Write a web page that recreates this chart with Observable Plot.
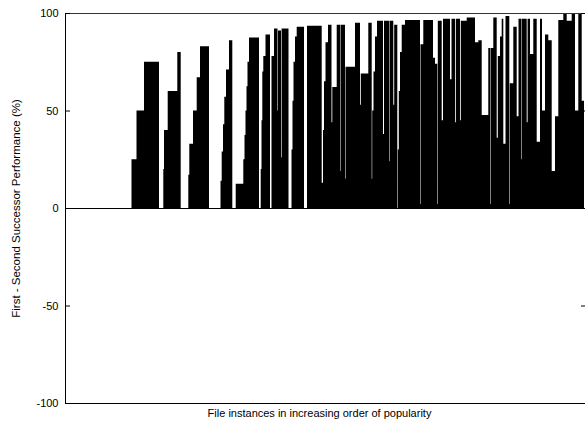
<!DOCTYPE html>
<html>
<head>
<meta charset="utf-8">
<script src="https://cdn.jsdelivr.net/npm/d3@7"></script>
<script src="https://cdn.jsdelivr.net/npm/@observablehq/plot@0.6"></script>
<style>
  html, body { margin: 0; padding: 0; background: white; overflow: hidden; }
  svg { display: block; }
</style>
</head>
<body>
<div id="chart"></div>
<script>
// File instance rank where each step starts, and the step's value (%)
const rank = [
  0, 66.5, 71.5, 79, 94, 98.3, 99, 102.7, 112.3, 115.7,
  123.3, 124.3, 128, 131.7, 135, 144,
  155.5, 156.7, 158, 159.3, 161, 164, 167.3,
  170.7, 178.3, 179.5, 180.5, 181.5, 182.5, 184, 194,
  195.7, 196.5, 197.3, 198.3, 200.5, 205,
  206.5, 209, 212.5, 213, 216, 216.6, 223.5,
  226.5, 227.5, 228.5, 230, 231.7, 239, 242,
  256.7, 258, 259, 260.5, 263, 266.5, 267.3, 271.7, 275, 275.5, 280, 280.5,
  290, 295, 295.8, 303.3, 306.7, 307.2, 308.5, 310, 312,
  318, 319, 324.3, 324.8, 328.3, 329.2, 332.3, 332.8, 333.8, 335, 336.7,
  340, 355, 355.5, 358.3, 368, 370, 372.3, 372.8, 376.7,
  378, 385, 386.5, 390, 390.8, 395, 395.8, 401.7,
  410, 413.3, 416.7, 423.3, 425.5, 426, 428.3, 431.7, 432.8, 435, 436.7, 438.3,
  440.5, 444.3, 444.8, 448.3, 451.7, 453.5, 456.5, 457, 461.7, 462.6, 465, 468.3,
  471.7, 475, 477, 480, 483.3, 486.7, 490, 493.3, 498.3, 501.7, 506.7,
  510, 513.3, 516.7, 519
];
const perf = [
  0, 25, 50, 75, 0, 20, 40, 60, 80, 0,
  17, 33, 50, 67, 83, 0,
  14, 29, 43, 57, 71, 86, 0,
  12.5, 25, 37.5, 50, 62.5, 75, 87.5, 0,
  20, 45, 70, 78, 89, 0,
  78, 92, 50, 91, 26, 92, 0,
  30, 55, 75, 88, 93, 0, 93.5,
  13, 40, 65, 85, 94, 44, 62, 94, 19, 94, 15, 72.5,
  95, 53, 69, 95, 15, 50, 70, 88, 96,
  38, 96, 24, 96, 53, 94, 0, 30, 60, 80, 94,
  96.4, 2, 84, 96.4, 77, 74, 2, 96, 45,
  97, 66, 97, 44, 97, 45, 96, 97.7,
  85, 86, 47.7, 82, 2, 82, 97.7, 36, 78, 88, 97, 33,
  98.5, 2, 64, 93, 47, 97, 25, 97, 44, 97, 79, 97,
  34, 97, 50, 89, 86, 19, 47, 96.4, 99.5, 96, 99.5,
  50, 99.5, 55, 55
];
const yTicks = [-100, -50, 0, 50, 100];
const xLabel = "File instances in increasing order of popularity";
const yLabel = "First - Second Successor Performance (%)";

const data = rank.map((r, i) => ({rank: r, perf: perf[i]}));

const chart = Plot.plot({
  width: 585,
  height: 423,
  marginLeft: 65,
  marginRight: 0,
  marginTop: 13,
  marginBottom: 20,
  style: {fontFamily: "'Liberation Sans', Arial, sans-serif", fontSize: "11px", background: "white", color: "black"},
  x: {domain: [0, 520], axis: null},
  y: {domain: [-100, 100], axis: null},
  marks: [
    Plot.areaY(data, {x: "rank", y: "perf", curve: "step-after", fill: "black"}),
    Plot.ruleY([0], {stroke: "black"}),
    Plot.ruleY([100], {stroke: "#333"}),
    Plot.ruleY([-100], {stroke: "black"}),
    Plot.ruleX([0], {stroke: "black"}),
    Plot.axisY({ticks: yTicks, tickSize: 0, tickPadding: 7, tickFormat: d => String(d), label: null, fontSize: 11}),
    Plot.axisY({ticks: yTicks, tickSize: 5, dx: 5, tickFormat: () => "", label: null}),
    Plot.axisY({anchor: "right", ticks: yTicks, tickSize: 4, dx: -5, tickFormat: () => "", label: null}),
    Plot.text([xLabel], {frameAnchor: "bottom", dx: -6, dy: 10, lineAnchor: "middle", textAnchor: "middle", fontSize: 11}),
    Plot.text([yLabel], {frameAnchor: "left", rotate: -90, dx: -49, textAnchor: "middle", lineAnchor: "middle", fontSize: 11.5})
  ]
});
document.getElementById("chart").appendChild(chart);
</script>
</body>
</html>
